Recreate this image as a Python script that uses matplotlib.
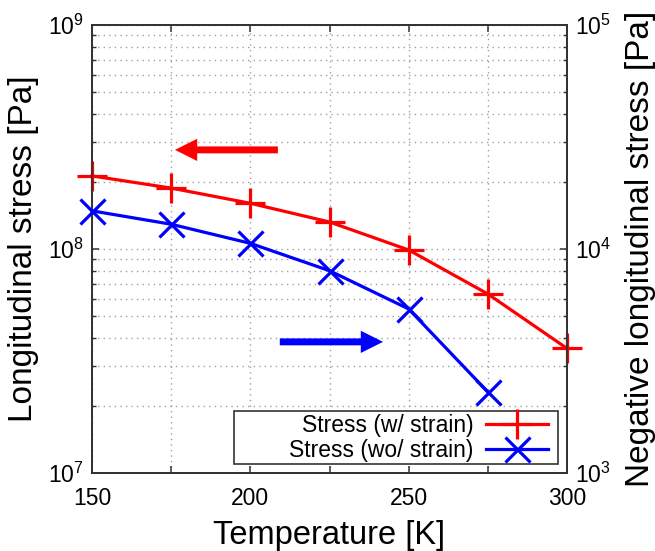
import matplotlib
matplotlib.use("Agg")
import matplotlib.pyplot as plt
from matplotlib.ticker import LogLocator, NullFormatter
from matplotlib.patches import Rectangle

# ---- data ----
temps_w = [150, 175, 200, 225, 250, 275, 300]
stress_w = [2.12e8, 1.87e8, 1.60e8, 1.32e8, 9.9e7, 6.3e7, 3.6e7]          # left axis [Pa]
temps_wo = [150, 175, 200, 225, 250, 275]
stress_wo = [1.48e4, 1.29e4, 1.06e4, 8.0e3, 5.4e3, 2.3e3]                 # right axis [Pa]
x_ticks = [150, 175, 200, 225, 250, 275, 300]
x_tick_labels = ["150", "", "200", "", "250", "", "300"]
label_w = "Stress (w/ strain)"
label_wo = "Stress (wo/ strain)"

plt.rcParams["font.family"] = ["Liberation Sans", "DejaVu Sans"]
plt.rcParams["mathtext.fontset"] = "custom"
plt.rcParams["mathtext.rm"] = "Liberation Sans"
plt.rcParams["mathtext.it"] = "Liberation Sans:italic"

W, H = 655, 551
AX_L, AX_R, AX_T, AX_B = 92, 567, 25, 473
fig = plt.figure(figsize=(W/100, H/100), dpi=100)
ax = fig.add_axes([AX_L/W, 1-AX_B/H, (AX_R-AX_L)/W, (AX_B-AX_T)/H])
ax2 = ax.twinx()

ax.set_xlim(150, 300)
ax.set_yscale("log")
ax.set_ylim(1e7, 1e9)
ax2.set_yscale("log")
ax2.set_ylim(1e3, 1e5)

ax.set_xticks(x_ticks)
ax.set_xticklabels(x_tick_labels)

for a in (ax, ax2):
    a.yaxis.set_major_locator(LogLocator(base=10, numticks=10))
    a.yaxis.set_minor_locator(LogLocator(base=10, subs=range(2, 10), numticks=20))
    a.yaxis.set_minor_formatter(NullFormatter())
    for s in a.spines.values():
        s.set_linewidth(1.3)
        s.set_color("#333333")

ax.tick_params(axis="both", which="both", direction="in", top=True, right=False,
               labelsize=16.5, color="#333333")
ax.tick_params(axis="both", which="major", length=5, width=1.1)
ax.tick_params(axis="y", which="minor", length=3, width=1.0)
ax.tick_params(axis="x", which="major", pad=10)
ax.tick_params(axis="y", which="major", pad=6)
ax2.tick_params(axis="y", which="both", direction="in", labelsize=16.5, color="#333333")
ax2.tick_params(axis="y", which="major", length=5, width=1.1, pad=6)
ax2.tick_params(axis="y", which="minor", length=3, width=1.0)

ax.grid(True, which="both", color="#a0a0a0", linestyle=(0, (1, 3)), linewidth=1.0)
ax.set_axisbelow(True)

l1, = ax.plot(temps_w, stress_w, color="red", linewidth=2.3, marker="+",
              markersize=21, markeredgewidth=2.3, label=label_w, zorder=3, clip_on=False)
l2, = ax2.plot(temps_wo, stress_wo, color="blue", linewidth=2.3, marker="x",
               markersize=18, markeredgewidth=2.3, label=label_wo, zorder=3, clip_on=False)

# arrows
ax.annotate("", xy=(176.2, 2.77e8), xytext=(208.7, 2.77e8),
            arrowprops=dict(arrowstyle="simple,head_width=1.6,head_length=1.6,tail_width=0.5",
                            color="red", shrinkA=0, shrinkB=0, mutation_scale=10, lw=0))
ax.annotate("", xy=(241.9, 3.85e7), xytext=(209.3, 3.85e7),
            arrowprops=dict(arrowstyle="simple,head_width=1.6,head_length=1.6,tail_width=0.5",
                            color="blue", shrinkA=0, shrinkB=0, mutation_scale=10, lw=0))

ax.set_xlabel("Temperature [K]", fontsize=23.5, labelpad=7)
ax.set_ylabel("Longitudinal stress [Pa]", fontsize=24, labelpad=6)
ax2.set_ylabel("Negative longitudinal stress [Pa]", fontsize=24, labelpad=10)

# legend frame (gnuplot-style wide box)
axw, axh = AX_R - AX_L, AX_B - AX_T
box = Rectangle(((234-AX_L)/axw, (AX_B-464)/axh), (558-234)/axw, (464-411)/axh,
                transform=ax2.transAxes, facecolor="white", edgecolor="#333333",
                linewidth=1.2, zorder=4)
ax2.add_patch(box)
leg = ax2.legend([l1, l2], [label_w, label_wo], loc="center right",
                 bbox_to_anchor=((548-AX_L)/axw, (AX_B-438)/axh),
                 markerfirst=False, fontsize=16.5, frameon=False,
                 borderpad=0, labelspacing=0.12, handlelength=2.7,
                 handletextpad=0.55, borderaxespad=0)
leg.set_zorder(5)
for t in leg.get_texts():
    t.set_ha("right")

fig.savefig("out.png", dpi=100)
